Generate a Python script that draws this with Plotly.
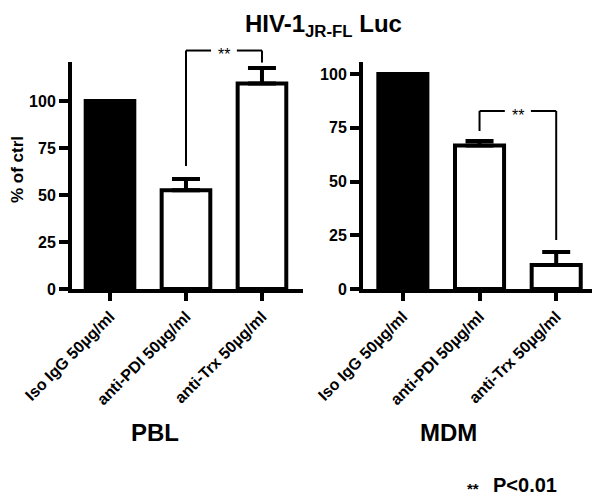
import plotly.graph_objects as go

# ---- data ----
categories = ["Iso IgG 50µg/ml", "anti-PDI 50µg/ml", "anti-Trx 50µg/ml"]
pbl_values = [100, 52.5, 109.3]
pbl_errors = [None, 6.0, 8.2]
mdm_values = [100, 66.8, 11.2]
mdm_errors = [None, 2.0, 6.0]
y_ticks = [0, 25, 50, 75, 100]
panel_titles = ["PBL", "MDM"]
main_title = "HIV-1<sub>JR-FL</sub> Luc"
legend_note = "P<0.01"
# significance brackets: (from category index, to category index, left-leg bottom, top, right-leg bottom)
pbl_bracket = (1, 2, 65.4, 126.8, 120.4)
mdm_bracket = (1, 2, 73.5, 82.8, 22.8)

FONT = "Liberation Sans, Arial, sans-serif"
OFF = 8                 # page body margin of the html page
W, H = 600 - OFF, 502 - OFF
Y0_PX, YTOP_PX = 289, 62
YMAX_L = 120.7
YMAX_R = 105.6

def px_x(px):
    return (px - OFF) / W

def px_y(px):
    return 1 - (px - OFF) / H

fill_colors = ["black", "white", "white"]

fig = go.Figure()

def add_panel(vals, errs, xa, ya):
    fig.add_trace(go.Bar(
        x=list(range(len(categories))), y=vals, xaxis=xa, yaxis=ya,
        width=0.64,
        marker=dict(color=fill_colors, line=dict(color="black", width=4)),
        error_y=dict(type="data", array=[e if e is not None else 0 for e in errs],
                     arrayminus=[0] * len(errs), symmetric=False,
                     thickness=4, width=14, color="black", visible=True),
        showlegend=False, hoverinfo="skip",
    ))

add_panel(pbl_values, pbl_errors, "x", "y")
add_panel(mdm_values, mdm_errors, "x2", "y2")

ydom = [px_y(Y0_PX), px_y(YTOP_PX)]

base = dict(showline=True, linewidth=4, linecolor="black", showgrid=False,
            zeroline=False, ticks="outside", tickcolor="black", tickwidth=4,
            automargin=False, fixedrange=True)
yfont = dict(family=FONT, size=16, color="black", weight="bold")
xfont = dict(family=FONT, size=16, color="black", weight="bold")

fig.update_layout(
    width=W, height=H,
    margin=dict(l=0, r=0, t=0, b=0),
    paper_bgcolor="white", plot_bgcolor="white",
    xaxis=dict(domain=[px_x(72), px_x(303)], range=[-0.5, 2.54], anchor="y",
               tickvals=list(range(len(categories))), ticktext=categories,
               tickangle=-45, ticklen=8, tickfont=xfont, **base),
    yaxis=dict(domain=ydom, range=[0, YMAX_L], anchor="x", tickvals=y_ticks,
               ticklen=9, tickfont=yfont, **base),
    xaxis2=dict(domain=[px_x(363), px_x(593)], range=[-0.52, 2.48], anchor="y2",
                tickvals=list(range(len(categories))), ticktext=categories,
                tickangle=-45, ticklen=8, tickfont=xfont, **base),
    yaxis2=dict(domain=ydom, range=[0, YMAX_R], anchor="x2", tickvals=y_ticks,
                ticklen=9, tickfont=yfont, **base),
)

shapes = []
annotations = []

def add_bracket(br, xref, ydomref, ymax):
    a, b, lo_a, top, lo_b = br
    mid = (a + b) / 2
    gap = 0.17
    line = dict(color="black", width=2)
    def seg(x0, y0, x1, y1):
        shapes.append(dict(type="line", xref=xref, yref=ydomref,
                           x0=x0, x1=x1, y0=y0 / ymax, y1=y1 / ymax, line=line))
    seg(a, lo_a, a, top)
    seg(a, top, mid - gap, top)
    seg(mid + gap, top, b, top)
    seg(b, top, b, lo_b)
    annotations.append(dict(text="**", xref=xref, yref=ydomref, x=mid, y=top / ymax,
                            yanchor="middle", xanchor="center", showarrow=False, yshift=-4,
                            font=dict(family=FONT, size=16, color="black")))

add_bracket(pbl_bracket, "x", "y domain", YMAX_L)
add_bracket(mdm_bracket, "x2", "y2 domain", YMAX_R)

annotations += [
    dict(text=main_title, xref="paper", yref="paper", x=px_x(323), y=px_y(8),
         xanchor="center", yanchor="top", showarrow=False,
         font=dict(family=FONT, size=24, color="black", weight="bold")),
    dict(text="% of ctrl", xref="paper", yref="paper", x=px_x(17), y=px_y(170),
         xanchor="center", yanchor="middle", showarrow=False, textangle=-90,
         font=dict(family=FONT, size=17, color="black", weight="bold")),
    dict(text=panel_titles[0], xref="paper", yref="paper", x=px_x(155), y=px_y(432),
         xanchor="center", yanchor="middle", showarrow=False,
         font=dict(family=FONT, size=24, color="black", weight="bold")),
    dict(text=panel_titles[1], xref="paper", yref="paper", x=px_x(448), y=px_y(432),
         xanchor="center", yanchor="middle", showarrow=False,
         font=dict(family=FONT, size=24, color="black", weight="bold")),
    dict(text="**", xref="paper", yref="paper", x=px_x(473), y=px_y(488),
         xanchor="center", yanchor="middle", showarrow=False,
         font=dict(family=FONT, size=15, color="black", weight="bold")),
    dict(text=legend_note, xref="paper", yref="paper", x=px_x(525), y=px_y(485),
         xanchor="center", yanchor="middle", showarrow=False,
         font=dict(family=FONT, size=20, color="black", weight="bold")),
]

fig.update_layout(shapes=shapes, annotations=annotations)

fig.write_html("out.html")
